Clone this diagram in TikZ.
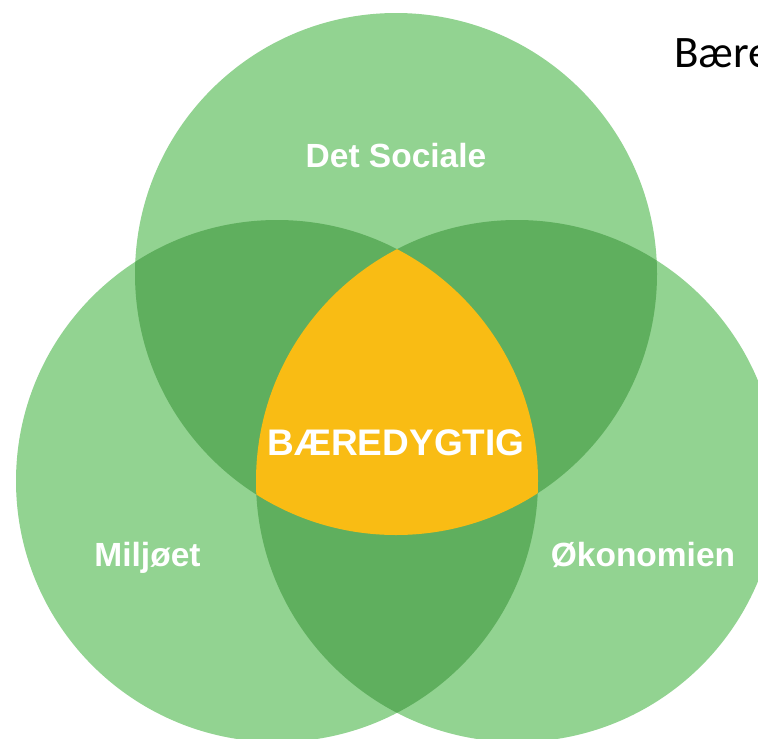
\documentclass[tikz,border=0pt]{standalone}
\usepackage{fontspec}
\newfontfamily\labelfont{Liberation Sans}
\newfontfamily\titlefont{Carlito}
\definecolor{lightleaf}{HTML}{92D391}
\definecolor{darkleaf}{HTML}{5FAF5E}
\definecolor{goldcore}{HTML}{F9BC14}

\tikzset{
  ring/.style={fill=lightleaf, draw=none},
  circlelabel/.style={text=white, font=\labelfont\bfseries\fontsize{33.5}{36}\selectfont, anchor=base, inner sep=0pt},
}

\begin{document}
\begin{tikzpicture}[x=1pt, y=-1pt]
    \useasboundingbox (0,0) rectangle (758,739);
    % the three circles
    \coordinate (social) at (396,274);
    \coordinate (miljo) at (277,481);
    \coordinate (okonomi) at (517,481);
    \def\rad{261}
    \fill[ring] (social) circle (\rad);
    \fill[ring] (miljo) circle (\rad);
    \fill[ring] (okonomi) circle (\rad);
    % pairwise overlaps
    \begin{scope}
        \clip (social) circle (\rad);
        \fill[darkleaf] (miljo) circle (\rad);
        \fill[darkleaf] (okonomi) circle (\rad);
    \end{scope}
    \begin{scope}
        \clip (miljo) circle (\rad);
        \fill[darkleaf] (okonomi) circle (\rad);
    \end{scope}
    % centre
    \begin{scope}
        \clip (social) circle (\rad);
        \clip (miljo) circle (\rad);
        \fill[goldcore] (okonomi) circle (\rad);
    \end{scope}
    % labels
    \node[circlelabel] (sociale) at (396,167) {Det Sociale};
    \node[circlelabel] (miljoet) at (147.5,566) {Miljøet};
    \node[circlelabel] (okonomien) at (643,566) {Økonomien};
    \node[circlelabel, font=\labelfont\bfseries\fontsize{37}{40}\selectfont] (baeredygtig) at (396,455) {BÆREDYGTIG};
    \node[anchor=base west, inner sep=0pt, font=\titlefont\fontsize{45}{48}\selectfont] (title) at (674,67) {Bære};
\end{tikzpicture}
\end{document}
